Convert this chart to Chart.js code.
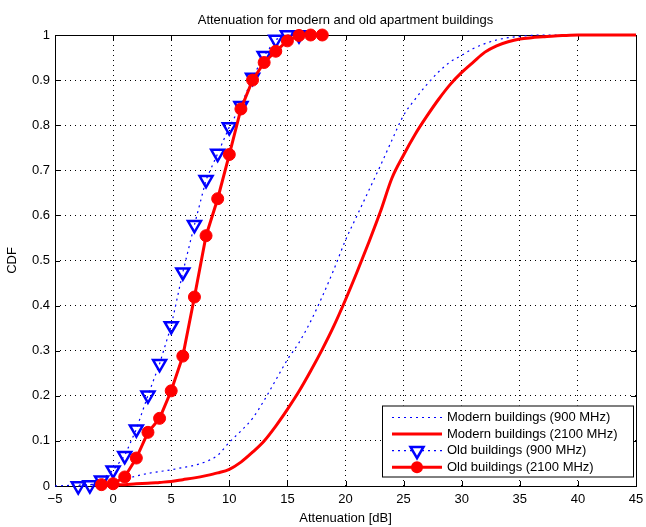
<!DOCTYPE html>
<html lang="en">
<head>
<meta charset="UTF-8">
<title>Attenuation CDF</title>
<script src="https://cdn.jsdelivr.net/npm/chart.js@4.4.0/dist/chart.umd.min.js"></script>
<style>
  html, body { margin: 0; padding: 0; background: #fff; }
</style>
</head>
<body>
<canvas id="myChart" width="646" height="527"></canvas>

<script>
    // data (x = attenuation in dB, y = CDF)
    var xModern900 = [-5, -4, -3, -2, -1, 0, 1, 2, 3, 4, 5, 6, 7, 8, 9, 10, 11, 12, 13, 14, 15, 16, 17, 18, 19, 20,
        21, 22, 23, 24, 25, 26, 27, 28, 29, 30, 31, 32, 33, 34, 35, 36, 37, 45];
    var yModern900 = [0, 0.001, 0.002, 0.003, 0.005, 0.009, 0.016, 0.022, 0.028, 0.032, 0.036, 0.041, 0.046, 0.054, 0.068, 0.097,
        0.122, 0.15, 0.19, 0.235, 0.28, 0.318, 0.365, 0.42, 0.48, 0.545, 0.6, 0.655, 0.71, 0.767, 0.822, 0.858, 0.89,
        0.918, 0.94, 0.955, 0.97, 0.981, 0.989, 0.994, 0.997, 0.999, 1, 1];

    var xModern2100 = [-1, 0, 1, 2, 3, 4, 5, 6, 7, 8, 9, 10, 11, 12, 13, 14, 15, 16, 17, 18, 19, 20, 21, 22, 23, 24,
        25, 26, 27, 28, 29, 30, 31, 32, 33, 34, 35, 36, 37, 38, 39, 40, 45];
    var yModern2100 = [0, 0.002, 0.003, 0.005, 0.006, 0.008, 0.01, 0.014, 0.018, 0.023, 0.029, 0.037, 0.053, 0.075, 0.1, 0.133,
        0.17, 0.21, 0.255, 0.303, 0.355, 0.413, 0.475, 0.54, 0.608, 0.683, 0.734, 0.78, 0.82, 0.857, 0.89, 0.917,
        0.94, 0.962, 0.976, 0.985, 0.991, 0.994, 0.996, 0.998, 0.999, 1, 1];

    var xOld900 = [-3, -2, -1, 0, 1, 2, 3, 4, 5, 6, 7, 8, 9, 10, 11, 12, 13, 14, 15, 16];
    var yOld900 = [0, 0.002, 0.013, 0.035, 0.067, 0.126, 0.201, 0.271, 0.355, 0.474, 0.579, 0.679, 0.737, 0.796,
        0.843, 0.906, 0.954, 0.99, 1, 1];

    var xOld2100 = [-1, 0, 1, 2, 3, 4, 5, 6, 7, 8, 9, 10, 11, 12, 13, 14, 15, 16, 17, 18];
    var yOld2100 = [0.003, 0.005, 0.02, 0.062, 0.119, 0.15, 0.211, 0.288, 0.419, 0.555, 0.637, 0.735, 0.836,
        0.9, 0.939, 0.964, 0.987, 0.999, 1, 1];

    var seriesNames = ['Modern buildings (900 MHz)', 'Modern buildings (2100 MHz)',
        'Old buildings (900 MHz)', 'Old buildings (2100 MHz)'];
    var titleText = 'Attenuation for modern and old apartment buildings';

    var FONT = '"Liberation Sans", Arial, Helvetica, sans-serif';

    function f_points(p_x, p_y) {
        var v_pts = [];
        for (var i = 0; i < p_x.length; i++) {
            v_pts.push({ x: p_x[i], y: p_y[i] });
        }
        return v_pts;
    }

    // marker drawing for the legend
    function f_marker(ctx, p_style, cx, cy) {
        if (p_style == 'triangle') {
            var r = 7.5;
            ctx.beginPath();
            ctx.moveTo(cx, cy + r);
            ctx.lineTo(cx - r * Math.sin(Math.PI / 3), cy - r / 2);
            ctx.lineTo(cx + r * Math.sin(Math.PI / 3), cy - r / 2);
            ctx.closePath();
            ctx.fillStyle = '#fff';
            ctx.fill();
            ctx.strokeStyle = '#0000ff';
            ctx.lineWidth = 2.5;
            ctx.setLineDash([]);
            ctx.stroke();
        } else if (p_style == 'circle') {
            ctx.beginPath();
            ctx.arc(cx, cy, 6, 0, Math.PI * 2);
            ctx.fillStyle = '#ff0000';
            ctx.fill();
        }
    }

    // box, inner ticks, title and the legend drawn matlab style
    var matlabPlugin = {
        id: 'matlabPlugin',
        beforeDatasetsDraw: function (chart) {
            var ctx = chart.ctx, a = chart.chartArea;
            var sx = chart.scales.x, sy = chart.scales.y;
            ctx.save();
            ctx.strokeStyle = '#000';
            ctx.lineWidth = 1;
            ctx.beginPath();
            sx.ticks.forEach(function (t) {
                var px = Math.round(sx.getPixelForValue(t.value)) + 0.5;
                ctx.moveTo(px, a.bottom); ctx.lineTo(px, a.bottom - 5);
                ctx.moveTo(px, a.top); ctx.lineTo(px, a.top + 5);
            });
            sy.ticks.forEach(function (t) {
                var py = Math.round(sy.getPixelForValue(t.value)) + 0.5;
                ctx.moveTo(a.left, py); ctx.lineTo(a.left + 5, py);
                ctx.moveTo(a.right, py); ctx.lineTo(a.right - 5, py);
            });
            ctx.stroke();
            ctx.strokeRect(Math.round(a.left) + 0.5, Math.round(a.top) + 0.5,
                Math.round(a.right - a.left), Math.round(a.bottom - a.top));

            ctx.fillStyle = '#000';
            ctx.font = '13px ' + FONT;
            ctx.textAlign = 'center';
            ctx.textBaseline = 'middle';
            ctx.fillText(titleText, (a.left + a.right) / 2, 20);
            ctx.restore();
        },
        afterDraw: function (chart) {
            var ctx = chart.ctx;
            var lx = 382, ly = 405.5, lw = 251, lh = 71;
            ctx.save();
            ctx.fillStyle = '#fff';
            ctx.fillRect(lx, ly, lw, lh);
            ctx.strokeStyle = '#000';
            ctx.lineWidth = 1;
            ctx.strokeRect(lx + 0.5, ly + 0.5, lw, lh);

            var ds = chart.data.datasets;
            for (var i = 0; i < ds.length; i++) {
                var rowY = ly + 12 + i * 16.6;
                ctx.beginPath();
                ctx.moveTo(lx + 10, rowY);
                ctx.lineTo(lx + 60, rowY);
                ctx.strokeStyle = ds[i].borderColor;
                ctx.lineWidth = ds[i].borderWidth;
                ctx.setLineDash(ds[i].borderDash || []);
                ctx.stroke();
                ctx.setLineDash([]);
                if (ds[i].pointRadius > 0) {
                    f_marker(ctx, ds[i].pointStyle, lx + 35, rowY);
                }
                ctx.fillStyle = '#000';
                ctx.font = '13px ' + FONT;
                ctx.textAlign = 'left';
                ctx.textBaseline = 'middle';
                ctx.fillText(ds[i].label, lx + 65, rowY);
            }
            ctx.restore();
        }
    };

    var tickFont = { family: FONT, size: 13 };

    const ctx = document.getElementById('myChart').getContext('2d');
    const myChart = new Chart(ctx, {
        type: 'line',
        data: {
            datasets: [{
                label: seriesNames[0],
                data: f_points(xModern900, yModern900),
                borderColor: '#0000ff',
                borderWidth: 1.2,
                borderDash: [2, 4],
                pointRadius: 0,
                cubicInterpolationMode: 'monotone',
                clip: false,
                order: 4
            }, {
                label: seriesNames[1],
                data: f_points(xModern2100, yModern2100),
                borderColor: '#ff0000',
                borderWidth: 3,
                pointRadius: 0,
                cubicInterpolationMode: 'monotone',
                clip: false,
                order: 3
            }, {
                label: seriesNames[2],
                data: f_points(xOld900, yOld900),
                borderColor: '#0000ff',
                borderWidth: 1.2,
                borderDash: [2, 4],
                pointStyle: 'triangle',
                rotation: 180,
                pointRadius: 7.5,
                pointBorderWidth: 2.5,
                pointBorderColor: '#0000ff',
                pointBackgroundColor: 'rgba(255,255,255,0)',
                clip: false,
                order: 2
            }, {
                label: seriesNames[3],
                data: f_points(xOld2100, yOld2100),
                borderColor: '#ff0000',
                borderWidth: 3,
                pointStyle: 'circle',
                pointRadius: 6,
                pointBorderWidth: 1,
                pointBorderColor: '#ff0000',
                pointBackgroundColor: '#ff0000',
                clip: false,
                order: 1
            }]
        },
        options: {
            responsive: false,
            animation: false,
            devicePixelRatio: 1,
            layout: { padding: { top: 35, right: 0, left: 0, bottom: 0 } },
            plugins: {
                legend: { display: false },
                title: { display: false },
                tooltip: { enabled: false }
            },
            scales: {
                x: {
                    type: 'linear',
                    min: -5,
                    max: 45,
                    ticks: {
                        stepSize: 5, color: '#000', font: tickFont, padding: 6, maxRotation: 0,
                        callback: function (v) { return v < 0 ? '\u2212' + Math.abs(v) : String(v); }
                    },
                    grid: { color: '#000', lineWidth: 1, drawTicks: false },
                    border: { display: false, dash: [1, 4] },
                    title: { display: true, text: 'Attenuation [dB]', color: '#000', font: tickFont, padding: { top: 0, bottom: 1 } },
                    afterFit: function (s) {
                        s.height = 41;
                        s.paddingRight = 8; // let the "45" label run to the edge like the original
                    }
                },
                y: {
                    min: 0,
                    max: 1,
                    ticks: {
                        stepSize: 0.1, color: '#000', font: tickFont, padding: 5,
                        callback: function (v) { return (Math.round(v * 10) / 10).toString(); }
                    },
                    grid: { color: '#000', lineWidth: 1, drawTicks: false },
                    border: { display: false, dash: [1, 4] },
                    title: { display: true, text: 'CDF', color: '#000', font: tickFont, padding: { top: 5, bottom: 0 } },
                    afterFit: function (s) { s.width = 55; }
                }
            }
        },
        plugins: [matlabPlugin]
    });
</script>
</body>
</html>
